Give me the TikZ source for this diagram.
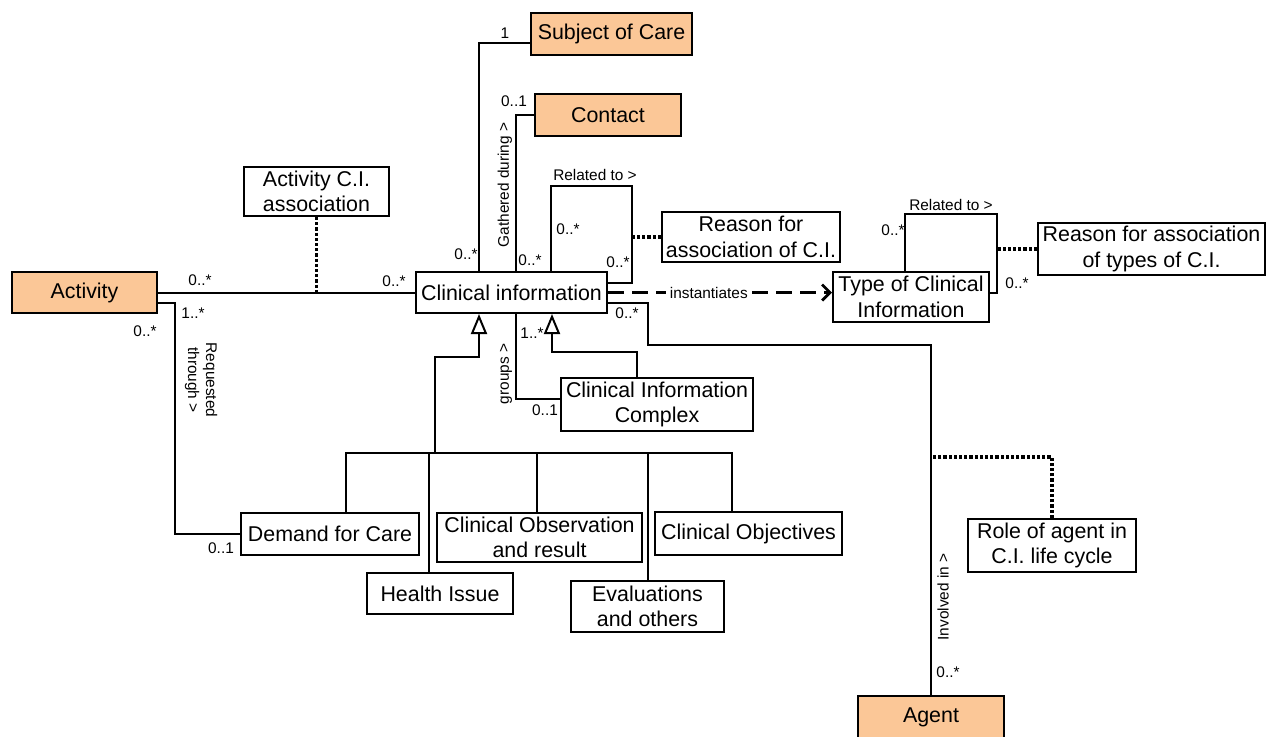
\documentclass[tikz,border=0pt]{standalone}
\usepackage{fontspec}
\setmainfont{Liberation Sans}
\usetikzlibrary{arrows.meta,calc}
\definecolor{peach}{RGB}{251,199,151}
\newcommand{\bigtxt}{\fontsize{10.7}{12.8}\selectfont}
\newcommand{\smalltxt}{\fontsize{7.7}{9}\selectfont}

\begin{document}
\begin{tikzpicture}[x=0.5pt,y=-0.5pt,
  box/.style={draw,line width=1pt,align=center,inner sep=1pt,font=\bigtxt},
  actor/.style={box,fill=peach},
  assoc/.style={line width=1pt},
  note/.style={line width=1.6pt,dash pattern=on 1.6pt off 1pt},
  inst/.style={line width=1.4pt,dash pattern=on 8pt off 4pt,-{Straight Barb[length=4pt,width=8pt]}},
  gen/.style={line width=1pt,-{Triangle[open,length=10pt,width=8pt]}},
  lbl/.style={font=\smalltxt,inner sep=0pt}]
\useasboundingbox (0,0) rectangle (1266,736);

\node[actor,minimum width=72.5pt,minimum height=20.5pt] (1) at (84.5,292.5) {Activity};
\node[actor,minimum width=80.5pt,minimum height=21pt] (2) at (611.5,34) {Subject of Care};
\node[actor,minimum width=73pt,minimum height=21pt] (3) at (608,115) {Contact};
\node[actor,minimum width=73pt,minimum height=21pt] (4) at (931,717) {Agent};
\node[box,minimum width=95.5pt,minimum height=20.5pt] (5) at (511.5,292.5) {Clinical information};
\node[box,minimum width=72.5pt,minimum height=24.5pt] (6) at (316.5,191.5) {Activity C.I.\\association};
\node[box,minimum width=89pt,minimum height=25pt] (7) at (751,237) {Reason for\\association of C.I.};
\node[box,minimum width=78pt,minimum height=25pt] (8) at (911,297) {Type of Clinical\\Information};
\node[box,minimum width=113.5pt,minimum height=26pt] (9) at (1151.5,249) {Reason for association\\of types of C.I.};
\node[box,minimum width=96pt,minimum height=26.5pt] (10) at (657,404.5) {Clinical Information\\Complex};
\node[box,minimum width=89pt,minimum height=21pt] (11) at (330,534) {Demand for Care};
\node[box,minimum width=73pt,minimum height=20.5pt] (12) at (440,593.5) {Health Issue};
\node[box,minimum width=102.5pt,minimum height=24.5pt] (13) at (539.5,537.5) {Clinical Observation\\and result};
\node[box,minimum width=76.5pt,minimum height=25.5pt] (14) at (647.5,606.5) {Evaluations\\and others};
\node[box,minimum width=93.5pt,minimum height=21.5pt] (15) at (748.5,533.5) {Clinical Objectives};
\node[box,minimum width=84pt,minimum height=26.5pt] (16) at (1052,545.5) {Role of agent in\\C.I. life cycle};
\coordinate (b) at (435,453);

% activity - clinical information
\path[draw,assoc] (1) -- (5);
\path[draw,note] (6) -- (6.south |- 5.west);
\path[draw,assoc] ($(1.east)+(0,10)$) -| ($(11.west)+(-65,0)$) -- (11.west);

% subject, contact
\path[draw,assoc] ($(2.west)+(0,9)$) -| ($(5.north west)+(64,0)$);
\path[draw,assoc] (3.west) -| ($(5.north west)+(101,0)$);

% related to
\path[draw,assoc] ($(5.north west)+(136,0)$) |- ++(81,-85) |- ($(5.east)+(0,-10)$);
\path[draw,note] (7.west) -- ++(-29,0);
\path[draw,assoc] ($(8.north west)+(73,0)$) |- ++(92,-57) |- ($(8.east)+(0,-4)$);
\path[draw,note] (9.west) -- ++(-40,0);

\path[draw,inst] (5.east) -- (8.west |- 5.east) node[lbl,fill=white,pos=0.45,inner xsep=2pt] (l0) {instantiates};

% specialisations
\path[draw,gen] (b) |- ($(5.south west)+(64,43)$) -- ($(5.south west)+(64,0)$);
\foreach \n/\dx in {11/16,12/-11,13/-3,14/0,15/-17}
  \path[draw,assoc] (\n.north) ++(\dx,0) |- (b);
\path[draw,gen] ($(10.north)+(-20,0)$) |- ($(5.south west)+(137,38)$) -- ($(5.south west)+(137,0)$);
\path[draw,assoc] ($(5.south west)+(101,0)$) |- ($(10.west)+(0,-6)$);

% agent
\path[draw,assoc] ($(5.east)+(0,10)$) -| ($(5.south east)+(40,31)$) -| (4.north);
\path[draw,note] (16.north) |- ($(4.north)+(0,-238)$);

% multiplicities and roles
\node[lbl] (l1) at (505,33) {1};
\node[lbl] (l2) at (466,254) {0..*};
\node[lbl] (l3) at (514,101) {0..1};
\node[lbl,rotate=90] (l4) at (505,185) {Gathered during >};
\node[lbl] (l5) at (530,260) {0..*};
\node[lbl] (l6) at (595,175) {Related to >};
\node[lbl] (l7) at (568,229) {0..*};
\node[lbl] (l8) at (618,262) {0..*};
\node[lbl] (l9) at (627,313) {0..*};
\node[lbl] (l10) at (532,333) {1..*};
\node[lbl,rotate=90] (l11) at (506,374) {groups >};
\node[lbl] (l12) at (545,410) {0..1};
\node[lbl] (l13) at (200,280) {0..*};
\node[lbl] (l14) at (394,281) {0..*};
\node[lbl] (l15) at (193,313) {1..*};
\node[lbl] (l16) at (145,331) {0..*};
\node[lbl,rotate=-90,align=center] (l17) at (201,380) {Requested\\through >};
\node[lbl] (l18) at (221,548) {0..1};
\node[lbl] (l19) at (893,230) {0..*};
\node[lbl] (l20) at (1017,283) {0..*};
\node[lbl] (l21) at (951,205) {Related to >};
\node[lbl] (l22) at (948,672) {0..*};
\node[lbl,rotate=90] (l23) at (943,597) {Involved in >};
\end{tikzpicture}
\end{document}
